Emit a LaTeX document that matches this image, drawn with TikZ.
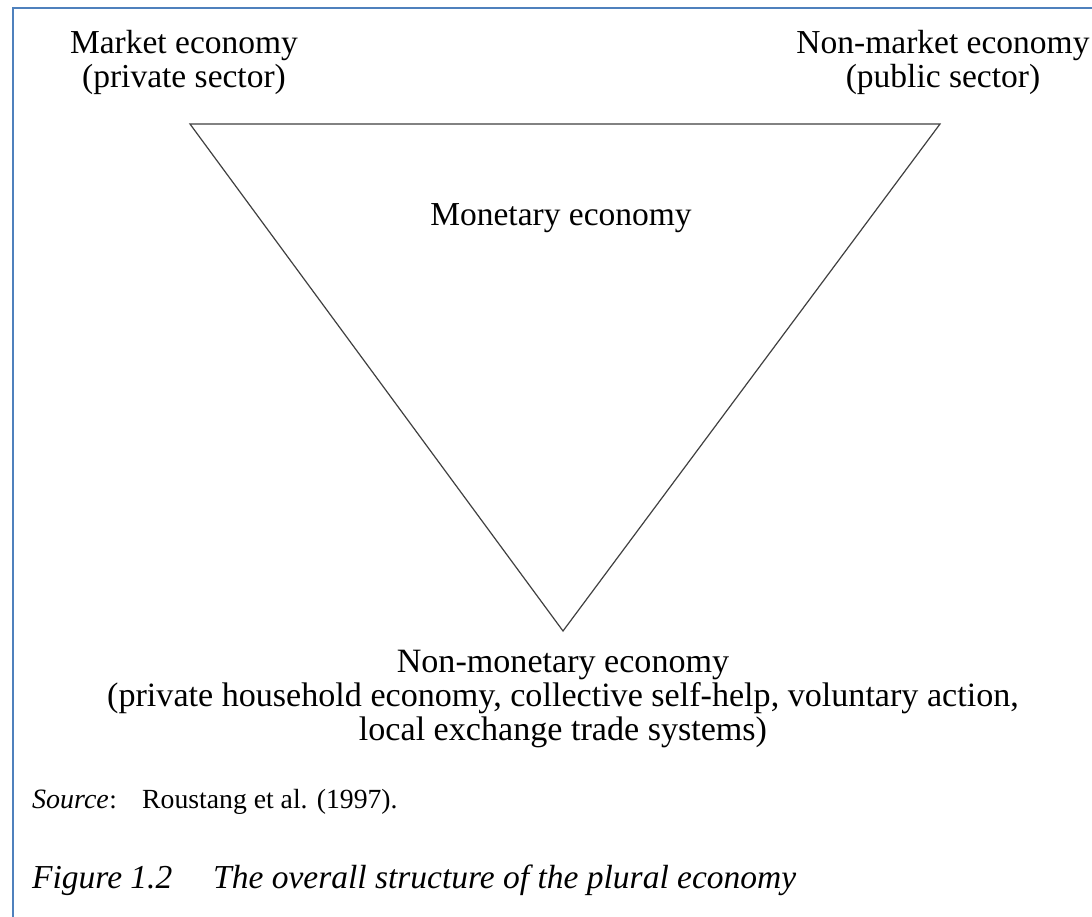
\documentclass[tikz,border=0pt]{standalone}
\usepackage{fontspec}
\setmainfont{Liberation Serif}
\definecolor{framecol}{RGB}{79,129,189}
\tikzset{
	econ/.style={align=center, inner sep=0pt, font=\fontsize{33.5}{34}\selectfont},
	note/.style={anchor=base west, inner sep=0pt, font=\fontsize{27}{30}\selectfont},
	capt/.style={anchor=base west, inner sep=0pt, font=\fontsize{33.5}{36}\selectfont\itshape}
}

\begin{document}
\begin{tikzpicture}[x=1pt, y=-1pt]

	\useasboundingbox (0,0) rectangle (1092,917);
	\fill [white] (0,0) rectangle (1092,917);
	\draw [framecol, line width=2pt] (13,917) -- (13,8) -- (1092,8);

	\coordinate (left) at (190,124);
	\coordinate (right) at (940,124);
	\coordinate (bottom) at (563,631);
	\draw [black!75, line width=1.2pt] (left) -- (right) -- (bottom) -- cycle;

	\node [econ] (market) at (184,62) {Market economy\\(private sector)};
	\node [econ] (nonmarket) at (943,62) {Non-market economy\\(public sector)};
	\node [econ] (monetary) at (561,218) {Monetary economy};
	\node [econ, font=\fontsize{34.1}{34}\selectfont] (nonmonetary) at (563,699) {Non-monetary economy\\(private household economy, collective self-help, voluntary action,\\local exchange trade systems)};

	\node [note, font=\fontsize{28}{30}\selectfont\itshape] (srclabel) at (32,808) {Source};
	\node [note, anchor=base west] (srccolon) at (srclabel.base east) {:};
	\node [note, font=\fontsize{27.7}{30}\selectfont] (srctext) at (142,808) {Roustang et al. (1997).};

	\node [capt] (fignum) at (32,888) {Figure 1.2};
	\node [capt] (figtitle) at (213,888) {The overall structure of the plural economy};

\end{tikzpicture}
\end{document}
